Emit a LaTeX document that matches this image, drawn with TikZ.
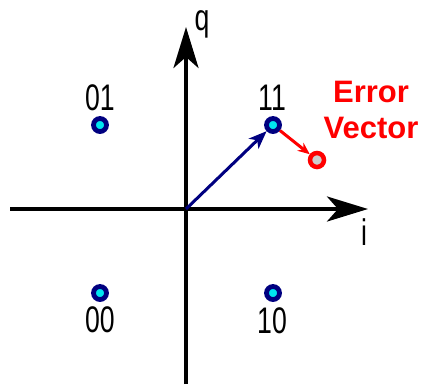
\documentclass[tikz,border=0pt]{standalone}
\usepackage{fontspec}
\setmainfont{Liberation Sans}
\usetikzlibrary{arrows.meta}
\definecolor{ptblue}{RGB}{0,0,128}
\definecolor{ptcyan}{RGB}{0,230,240}
\definecolor{errred}{RGB}{255,0,0}
\definecolor{errgray}{RGB}{205,205,205}
\tikzset{
  axis/.style={line width=4pt,-{Stealth[length=41pt,width=25pt,inset=11pt]}},
  sym/.style={circle,draw=ptblue,fill=ptcyan,line width=4.8pt,minimum size=13pt,inner sep=0pt},
  errpt/.style={circle,draw=errred,fill=errgray,line width=4.5pt,minimum size=14pt,inner sep=0pt},
  lbl/.style={font=\fontsize{37}{40}\selectfont,xscale=0.72,inner sep=0pt},
}
\begin{document}
\begin{tikzpicture}[x=1pt,y=-1pt]
\useasboundingbox(0,0)rectangle(425,384);
% axes
\coordinate(xl)at(10,209);
\coordinate(xr)at(368,209);
\coordinate(yb)at(186,384);
\coordinate(yt)at(186,27);
\coordinate(o)at(186,209);
\draw[axis](xl)--(xr);
\draw[axis](yb)--(yt);
\node[lbl]at(202,24){q};
\node[lbl]at(364,232){i};
% constellation
\node[sym](s01)at(100,125){};
\node[sym](s11)at(273,125){};
\node[sym](s00)at(100,293){};
\node[sym](s10)at(273,293){};
\node[lbl]at(100,98){01};
\node[lbl]at(272,98){11};
\node[lbl]at(100,320){00};
\node[lbl]at(272,321){10};
% error vector
\node[errpt](rx)at(317,160){};
\draw[ptblue,line width=3pt,-{Stealth[length=18pt,width=14pt,inset=5pt]}](o)--(s11);
\draw[errred,line width=3pt,-{Stealth[length=12pt,width=10pt]}](s11)--(rx);
\node[text=errred,font=\fontsize{31}{36}\selectfont\bfseries,align=center]at(371,110){Error\\Vector};
\end{tikzpicture}
\end{document}
